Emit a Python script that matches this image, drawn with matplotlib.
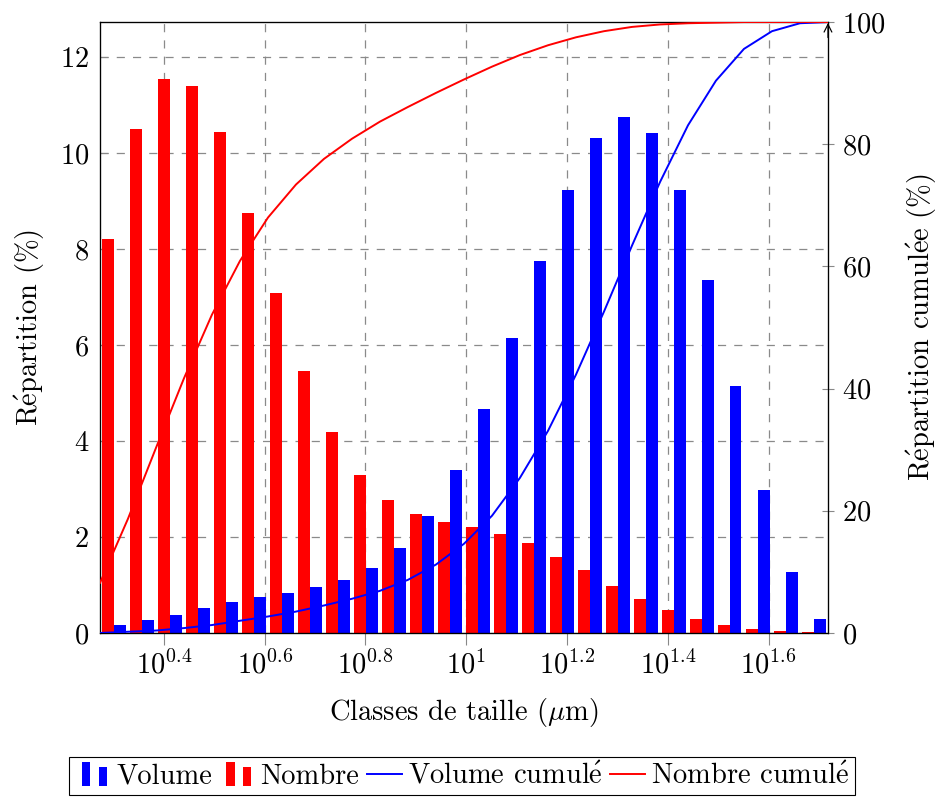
import numpy as np
import matplotlib.pyplot as plt
from matplotlib.legend_handler import HandlerBase
from matplotlib.lines import Line2D
from matplotlib.patches import Rectangle

plt.rcParams['font.family'] = ['cmr10', 'DejaVu Serif']
plt.rcParams['mathtext.fontset'] = 'cm'
plt.rcParams['axes.formatter.use_mathtext'] = True
plt.rcParams['font.size'] = 20.5

# size class boundaries (um), 18 classes per decade
class_edges = [1.876, 2.132, 2.423, 2.754, 3.129, 3.556, 4.042, 4.593, 5.220,
               5.933, 6.742, 7.662, 8.708, 9.896, 11.25, 12.78, 14.53, 16.51,
               18.76, 21.32, 24.23, 27.54, 31.29, 35.56, 40.42, 45.93, 52.20]

# distribution per class (%)
volume = [0.16, 0.27, 0.38, 0.51, 0.64, 0.74, 0.84, 0.95, 1.10, 1.35, 1.77, 2.44, 3.40,
          4.66, 6.15, 7.76, 9.22, 10.31, 10.76, 10.42, 9.23, 7.36, 5.14, 2.98, 1.27, 0.30]
nombre = [8.21, 10.51, 11.55, 11.40, 10.44, 8.76, 7.08, 5.45, 4.18, 3.30, 2.78, 2.47, 2.32,
          2.20, 2.07, 1.88, 1.59, 1.31, 0.98, 0.70, 0.47, 0.29, 0.16, 0.08, 0.04, 0.02]

# cumulated curves (%), one value per class boundary
volume_cum = [0, 0.2, 0.4, 0.8, 1.3, 2.0, 2.7, 3.5, 4.5, 5.6, 6.9, 8.7, 11.2, 14.6,
              19.2, 25.4, 33.1, 42.3, 52.6, 63.4, 73.8, 83.1, 90.4, 95.6, 98.5, 99.8, 100]
nombre_cum = [8.2, 18.7, 30.3, 41.7, 52.1, 60.9, 68.0, 73.4, 77.6, 80.9, 83.7, 86.1, 88.4,
              90.6, 92.7, 94.6, 96.2, 97.5, 98.5, 99.2, 99.6, 99.8, 99.9, 100, 100, 100, 100]

xtick_exps = ['0.4', '0.6', '0.8', '1', '1.2', '1.4', '1.6']
left_ticks = [0, 2, 4, 6, 8, 10, 12]
right_ticks = [0, 20, 40, 60, 80, 100]


class HandlerBars(HandlerBase):
    # two small bars like the pgfplots ybar legend
    def create_artists(self, legend, orig, xdescent, ydescent, width, height, fontsize, trans):
        x0, y0 = -xdescent, -ydescent - 0.1 * height
        bw = width * 0.235
        start = x0 + 0.2 * width
        c = orig.get_facecolor()
        r1 = Rectangle((start, y0), bw, height * 1.2, facecolor=c, edgecolor='none', transform=trans)
        r2 = Rectangle((start + 2 * bw, y0), bw, height * 0.92, facecolor=c, edgecolor='none', transform=trans)
        return [r1, r2]


fig = plt.figure(figsize=(9.38, 7.98), dpi=100)
ax = fig.add_axes([0.1066, 0.2068, 0.7761, 0.7656])
ax.set_xscale('log')

edges = np.array(class_edges)
centers = np.sqrt(edges[:-1] * edges[1:])
lc = np.log10(centers)
bw = 0.0229
ax.bar(10 ** (lc - bw), nombre, width=10 ** lc - 10 ** (lc - bw), align='edge',
       color='red', edgecolor='none', zorder=2)
ax.bar(10 ** lc, volume, width=10 ** (lc + bw) - 10 ** lc, align='edge',
       color='blue', edgecolor='none', zorder=2)

ax.set_xlim(edges[0], edges[-1])
ax.set_ylim(0, 12.73)
ax.set_xticks([10 ** float(e) for e in xtick_exps])
ax.set_xticklabels([r'$10^{%s}$' % e for e in xtick_exps])
ax.xaxis.set_minor_locator(plt.NullLocator())
ax.set_yticks(left_ticks)
ax.grid(True, color='#8a8a8a', linestyle=(0, (6.5, 6.5)), linewidth=0.9, zorder=0)
ax.set_axisbelow(True)
ax.tick_params(axis='x', direction='out', length=8.75, width=0.8, color='#888888', pad=4)
ax.tick_params(axis='y', direction='in', length=6, width=0.8, color='#888888', pad=8)
for s in ax.spines.values():
    s.set_linewidth(0.85)
ax.set_xlabel(r'Classes de taille ($\mu$m)', labelpad=12)
ax.set_ylabel(r'R$\acute{\mathrm{e}}$partition (%)', labelpad=9)

ax2 = ax.twinx()
ax2.plot(edges, volume_cum, color='blue', lw=1.4, zorder=3)
ax2.plot(edges, nombre_cum, color='red', lw=1.4, zorder=3)
ax2.set_ylim(0, 100)
ax2.set_yticks(right_ticks)
ax2.tick_params(axis='y', direction='inout', length=8.75, width=0.8, color='#888888', pad=6)
for s in ax2.spines.values():
    s.set_linewidth(0.85)
ax2.set_ylabel(r'R$\acute{\mathrm{e}}$partition cumul$\acute{\mathrm{e}}$e (%)', labelpad=14)
ax2.annotate('', xy=(1, 1.003), xytext=(1, 0.97), xycoords='axes fraction',
             arrowprops=dict(arrowstyle='->', lw=0.85, color='black', mutation_scale=14))

vol_proxy = Rectangle((0, 0), 1, 1, facecolor='blue')
nb_proxy = Rectangle((0, 0), 1, 1, facecolor='red')
vol_line = Line2D([], [], color='blue', lw=1.4)
nb_line = Line2D([], [], color='red', lw=1.4)
leg = fig.legend([vol_proxy, nb_proxy, vol_line, nb_line],
                 ['Volume', 'Nombre', r'Volume cumul$\acute{\mathrm{e}}$',
                  r'Nombre cumul$\acute{\mathrm{e}}$'],
                 handler_map={vol_proxy: HandlerBars(), nb_proxy: HandlerBars()},
                 loc='upper center', bbox_to_anchor=(0.4925, 0.0515), ncol=4,
                 fancybox=False, edgecolor='black', framealpha=1, borderaxespad=0,
                 handlelength=1.25, handletextpad=0.2, columnspacing=0.25, borderpad=0.2)
leg.get_frame().set_linewidth(0.8)

fig.savefig('out.png', dpi=100)
